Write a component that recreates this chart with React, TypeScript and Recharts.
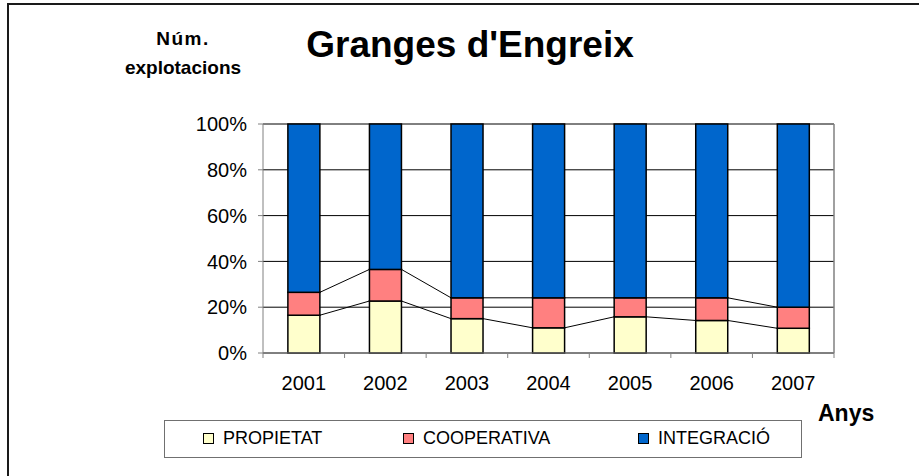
import React from "react";
import {
  ComposedChart,
  Bar,
  XAxis,
  YAxis,
  CartesianGrid,
  ReferenceLine,
} from "recharts";

const years = ["2001", "2002", "2003", "2004", "2005", "2006", "2007"];
const propietat = [16.5, 22.7, 15.0, 11.0, 15.8, 14.2, 10.8];
const cooperativa = [10.0, 13.8, 9.1, 13.1, 8.3, 9.9, 9.2];
const integracio = [73.5, 63.5, 75.9, 75.9, 75.9, 75.9, 80.0];
const yTicks = [0, 20, 40, 60, 80, 100];

const series = [
  { key: "propietat", name: "PROPIETAT", color: "#FFFFCC" },
  { key: "cooperativa", name: "COOPERATIVA", color: "#FF8080" },
  { key: "integracio", name: "INTEGRACIÓ", color: "#0066CC" },
];

const data = years.map((year, i) => ({
  year,
  propietat: propietat[i],
  cooperativa: cooperativa[i],
  integracio: integracio[i],
}));

const FONT = "'Liberation Sans', Arial, Helvetica, sans-serif";
const W = 919;
const H = 476;
const margin = { top: 124, right: 85, left: 203, bottom: 83 };
const yAxisWidth = 60;
const plotWidth = W - margin.left - margin.right - yAxisWidth;
const band = plotWidth / years.length;
const barFrac = 0.39;

// top of each stacked segment, used for the Excel style series lines
const stackTops: Record<string, number[]> = {
  propietat: propietat.map((v) => v),
  cooperativa: propietat.map((v, i) => v + cooperativa[i]),
};

function seriesShape(key: string) {
  return (props: any) => {
    const { x, y, width, height, index, fill, value } = props;
    const tops = stackTops[key];
    let line = null;
    if (tops && index < years.length - 1 && height > 0) {
      const low = Array.isArray(value) ? value[0] : 0;
      const high = Array.isArray(value) ? value[1] : value;
      const ppu = height / (high - low);
      const zeroY = y + height + low * ppu;
      const nextY = zeroY - tops[index + 1] * ppu;
      line = (
        <line
          x1={x + width}
          y1={y}
          x2={x + band}
          y2={nextY}
          stroke="#000"
          strokeWidth={1}
        />
      );
    }
    return (
      <g>
        <rect
          x={x}
          y={y}
          width={width}
          height={height}
          fill={fill}
          stroke="#000"
          strokeWidth={1.5}
        />
        {line}
      </g>
    );
  };
}

const TICK = 5;
const TICK_MARGIN = 18;

function YearTick(props: any) {
  const { x, y, payload, index } = props;
  const off = payload.offset || 0;
  const axisY = y - TICK - TICK_MARGIN;
  return (
    <g>
      <line x1={x - off} y1={axisY} x2={x - off} y2={axisY + TICK} stroke="#808080" />
      {index === years.length - 1 && (
        <line x1={x + off} y1={axisY} x2={x + off} y2={axisY + TICK} stroke="#808080" />
      )}
      <text
        x={x}
        y={y}
        dy="0.71em"
        textAnchor="middle"
        fontSize={20}
        fontFamily={FONT}
        fill="#000"
      >
        {payload.value}
      </text>
    </g>
  );
}

export default function App() {
  return (
    <div
      style={{
        position: "absolute",
        left: 0,
        top: 0,
        width: W,
        height: H,
        background: "#fff",
        fontFamily: FONT,
        overflow: "hidden",
      }}
    >
      <div
        style={{
          position: "absolute",
          left: 7,
          top: 3,
          width: 920,
          height: 480,
          borderLeft: "2px solid #1a1a1a",
          borderTop: "2px solid #1a1a1a",
        }}
      />

      <div
        style={{
          position: "absolute",
          left: 100,
          top: 24,
          width: 166,
          textAlign: "center",
          fontWeight: "bold",
          fontSize: 19,
          lineHeight: "29px",
          color: "#000",
        }}
      >
        <span style={{ letterSpacing: 1.5 }}>Núm.</span>
        <br />
        explotacions
      </div>

      <div
        style={{
          position: "absolute",
          left: 270,
          top: 23,
          width: 400,
          textAlign: "center",
          fontWeight: "bold",
          fontSize: 37,
          lineHeight: "44px",
          color: "#000",
        }}
      >
        Granges d'Engreix
      </div>

      <div
        style={{
          position: "absolute",
          left: 818,
          top: 400,
          fontWeight: "bold",
          fontSize: 23,
          color: "#000",
        }}
      >
        Anys
      </div>

      <div style={{ position: "absolute", left: 0, top: 0 }}>
        <ComposedChart
          width={W}
          height={H}
          data={data}
          margin={margin}
          barCategoryGap={`${((1 - barFrac) / 2) * 100}%`}
        >
          <CartesianGrid vertical={false} stroke="#000" strokeOpacity={1} />
          <XAxis
            dataKey="year"
            height={40}
            axisLine={{ stroke: "#808080" }}
            tickLine={false}
            tickSize={TICK}
            tickMargin={TICK_MARGIN}
            tick={<YearTick />}
            interval={0}
          />
          <YAxis
            width={yAxisWidth}
            domain={[0, 100]}
            ticks={yTicks}
            interval={0}
            tickFormatter={(v: number) => `${v}%`}
            axisLine={{ stroke: "#808080" }}
            tickLine={{ stroke: "#808080" }}
            tickSize={TICK}
            tickMargin={11}
            tick={{ fontSize: 20, fill: "#000", fontFamily: FONT }}
          />
          {series.map((s) => (
            <Bar
              key={s.key}
              dataKey={s.key}
              name={s.name}
              stackId="a"
              fill={s.color}
              stroke="#000"
              strokeWidth={1.5}
              shape={seriesShape(s.key)}
              isAnimationActive={false}
            />
          ))}
          <ReferenceLine
            x={years[years.length - 1]}
            position="end"
            stroke="#808080"
            strokeWidth={1.5}
          />
        </ComposedChart>
      </div>

      <div
        style={{
          position: "absolute",
          left: 164,
          top: 420,
          width: 636,
          height: 36,
          border: "1px solid #707070",
          background: "#fff",
        }}
      >
        {series.map((s, i) => {
          const swatchX = [38, 238, 473][i];
          return (
            <div
              key={s.key}
              style={{
                position: "absolute",
                left: swatchX,
                top: 7,
                display: "flex",
                alignItems: "center",
                fontSize: 18,
                color: "#000",
                whiteSpace: "nowrap",
              }}
            >
              <span
                style={{
                  display: "inline-block",
                  width: 9,
                  height: 9,
                  background: s.color,
                  border: "1px solid #000",
                  marginRight: 9,
                }}
              />
              {s.name}
            </div>
          );
        })}
      </div>
    </div>
  );
}
